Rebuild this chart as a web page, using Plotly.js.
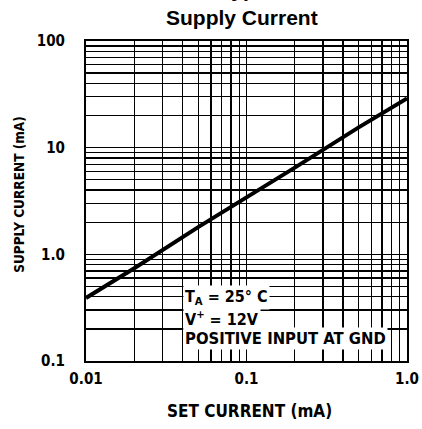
<!DOCTYPE html>
<html><head><meta charset="utf-8">
<script src="https://cdn.plot.ly/plotly-3.0.1.min.js"></script>
<style>html,body{margin:0;padding:0;background:#fff}#chart{width:422px;height:429px}</style>
</head><body><div id="chart"></div>
<script>
const setCurrent = [0.01, 0.02, 0.05, 0.1, 0.2, 0.5, 1.0];
const supplyCurrent = [0.39, 0.74, 1.8, 3.4, 6.5, 15.5, 29];
const xTickVals = [0.01, 0.1, 1];
const xTickText = ["0.01", "0.1", "1.0"];
const yTickVals = [0.1, 1, 10, 100];
const yTickText = ["0.1", "1.0", "10", "100"];

// minor log grid (2..9 within each decade)
function minorGrid(decades) {
  const out = [];
  decades.forEach(d => { for (let k = 2; k <= 9; k++) out.push(d * k); });
  return out;
}

const condensed = "Liberation Sans Narrow, Arial Narrow, DejaVu Sans Condensed, sans-serif";
const tickFont = {family: condensed, size: 15, color: "#000", weight: "bold"};

const trace = {
  x: setCurrent, y: supplyCurrent, mode: "lines", type: "scatter",
  line: {color: "#000", width: 4}, hoverinfo: "skip"
};

const axisCommon = {
  type: "log", showgrid: true, gridcolor: "#000", gridwidth: 1.3,
  showline: true, linecolor: "#000", linewidth: 2, mirror: true,
  zeroline: false, ticks: "", tickmode: "array", tickfont: tickFont
};

const layout = {
  width: 422, height: 429,
  margin: {l: 86, r: 15, t: 41, b: 68},
  paper_bgcolor: "#fff", plot_bgcolor: "#fff",
  showlegend: false,
  xaxis: Object.assign({}, axisCommon, {
    range: [Math.log10(0.01), Math.log10(1)],
    tickvals: xTickVals, ticktext: xTickText, ticklabelstandoff: 3,
    minor: {tickmode: "array", tickvals: minorGrid([0.01, 0.1]), showgrid: true,
            gridcolor: "#000", gridwidth: 1.3, ticks: ""}
  }),
  yaxis: Object.assign({}, axisCommon, {
    range: [Math.log10(0.1), Math.log10(100)],
    tickvals: yTickVals, ticktext: yTickText, ticklabelstandoff: 16,
    minor: {tickmode: "array", tickvals: minorGrid([0.1, 1, 10]), showgrid: true,
            gridcolor: "#000", gridwidth: 1.3, ticks: ""}
  }),
  annotations: [
    {text: "Typical Performance", xref: "paper", yref: "paper", x: 0.41, y: 1.16,
     xanchor: "left", yanchor: "middle", showarrow: false,
     font: {family: "Liberation Sans, Arial, sans-serif", size: 21, color: "#000", weight: "bold"}},
    {text: "Supply Current", xref: "paper", yref: "paper", x: 0.4875, y: 1.072,
     xanchor: "center", yanchor: "middle", showarrow: false,
     font: {family: "Liberation Sans, Arial, sans-serif", size: 21, color: "#000", weight: "bold"}},
    {text: "SET CURRENT (mA)", xref: "paper", yref: "paper", x: 0.508, y: -0.156,
     xanchor: "center", yanchor: "middle", showarrow: false,
     font: {family: condensed, size: 17, color: "#000", weight: "bold"}},
    {text: "SUPPLY CURRENT (mA)", xref: "paper", yref: "paper", x: -0.209, y: 0.522,
     xanchor: "center", yanchor: "middle", textangle: -90, showarrow: false,
     font: {family: condensed, size: 13.5, color: "#000", weight: "bold"}},
    {text: "T<sub>A</sub> = 25° C", xref: "paper", yref: "paper", x: (183-86)/321, y: (361-297)/320,
     xanchor: "left", yanchor: "middle", showarrow: false, bgcolor: "#fff", borderpad: 1,
     font: {family: condensed, size: 16, color: "#000", weight: "bold"}},
    {text: "V<sup>+</sup> = 12V", xref: "paper", yref: "paper", x: (183-86)/321, y: (361-318)/320,
     xanchor: "left", yanchor: "middle", showarrow: false, bgcolor: "#fff", borderpad: 1,
     font: {family: condensed, size: 16, color: "#000", weight: "bold"}},
    {text: "POSITIVE INPUT AT GND", xref: "paper", yref: "paper", x: (183-86)/321, y: (361-338)/320,
     xanchor: "left", yanchor: "middle", showarrow: false, bgcolor: "#fff", borderpad: 1,
     font: {family: condensed, size: 16.5, color: "#000", weight: "bold"}}
  ]
};

Plotly.newPlot("chart", [trace], layout, {displayModeBar: false, staticPlot: true});
</script></body></html>
